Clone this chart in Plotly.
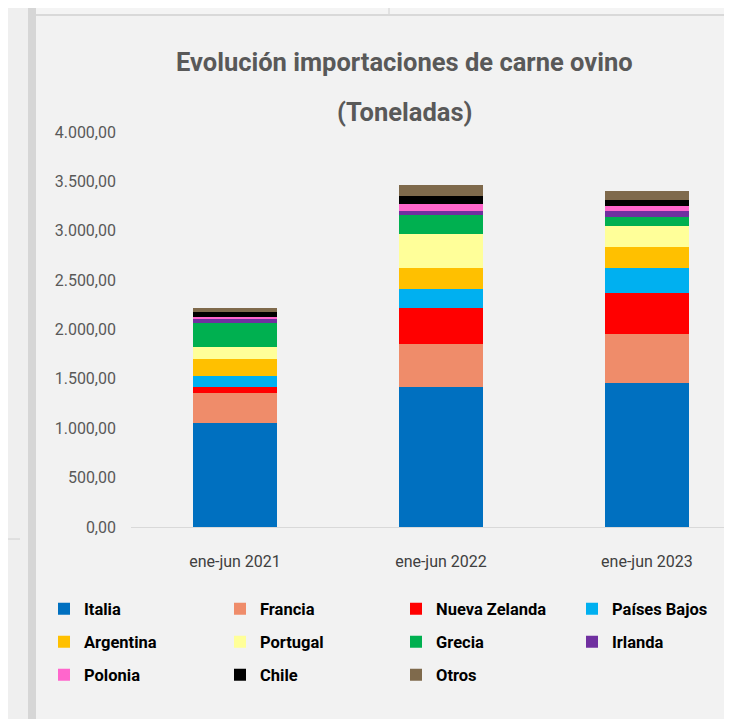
import plotly.graph_objects as go

categories = ["ene-jun 2021", "ene-jun 2022", "ene-jun 2023"]

italia = [1053, 1418, 1461]
francia = [301, 432, 493]
nueva_zelanda = [61, 365, 413]
paises_bajos = [111, 192, 256]
argentina = [172, 216, 215]
portugal = [128, 344, 213]
grecia = [237, 196, 85]
irlanda = [47, 40, 67]
polonia = [20, 65, 44]
chile = [44, 87, 64]
otros = [41, 108, 88]

y_tickvals = [0, 500, 1000, 1500, 2000, 2500, 3000, 3500, 4000]
y_ticktext = ["0,00", "500,00", "1.000,00", "1.500,00", "2.000,00",
              "2.500,00", "3.000,00", "3.500,00", "4.000,00"]

series = [
    ("Italia", italia, "#0070C0", "legend"),
    ("Francia", francia, "#EF8C6A", "legend"),
    ("Nueva Zelanda", nueva_zelanda, "#FF0000", "legend"),
    ("Países Bajos", paises_bajos, "#00B0F0", "legend"),
    ("Argentina", argentina, "#FFC000", "legend2"),
    ("Portugal", portugal, "#FFFF99", "legend2"),
    ("Grecia", grecia, "#00B050", "legend2"),
    ("Irlanda", irlanda, "#7030A0", "legend2"),
    ("Polonia", polonia, "#FF66CC", "legend3"),
    ("Chile", chile, "#000000", "legend3"),
    ("Otros", otros, "#7F6A4C", "legend3"),
]

FONT = "Roboto, Open Sans, sans-serif"

fig = go.Figure()
for name, vals, color, lg in series:
    fig.add_trace(go.Bar(
        x=categories, y=vals, name=name, legend=lg,
        marker=dict(color=color, line=dict(width=0)),
        width=0.41,
    ))

# page has an 8px body margin: figure coords = screen coords - 8
OFF = 8
W, H = 724, 711
L, R_EDGE, TOP, BOT = 131 - OFF, 732 - OFF, 132 - OFF, 527 - OFF
def px(x):  # x given in screen pixels
    return (x - OFF - L) / (R_EDGE - L)
def py(y):  # y given in screen pixels
    return (BOT - (y - OFF)) / (BOT - TOP)

legend_common = dict(
    orientation="h", xref="paper", yref="paper",
    x=px(44), xanchor="left", yanchor="middle",
    entrywidth=131, entrywidthmode="pixels",
    traceorder="normal", bgcolor="rgba(0,0,0,0)",
    font=dict(family=FONT, size=16.5, color="#000000", weight="bold"),
    itemclick=False,
)

shapes = [
    dict(type="rect", xref="paper", yref="paper", x0=px(0), x1=px(28), y0=py(730), y1=py(0),
         fillcolor="#EFEFEF", line=dict(width=0), layer="below"),
    dict(type="rect", xref="paper", yref="paper", x0=px(28), x1=px(36), y0=py(730), y1=py(0),
         fillcolor="#D6D6D6", line=dict(width=0), layer="below"),
    dict(type="line", xref="paper", yref="paper", x0=px(0), x1=px(20), y0=py(539), y1=py(539),
         line=dict(color="#D0D0D0", width=1)),
    dict(type="rect", xref="paper", yref="paper", x0=px(36), x1=px(740), y0=py(14), y1=py(0),
         fillcolor="#F4F4F4", line=dict(width=0), layer="below"),
    dict(type="line", xref="paper", yref="paper", x0=px(36), x1=px(740), y0=py(15), y1=py(15),
         line=dict(color="#D9D9D9", width=2)),
    dict(type="line", xref="paper", yref="paper", x0=px(389), x1=px(389), y0=py(0), y1=py(14),
         line=dict(color="#D0D0D0", width=1)),
]

fig.update_layout(
    width=W, height=H,
    margin=dict(l=L, r=W - R_EDGE, t=TOP, b=H - BOT, autoexpand=False),
    paper_bgcolor="#F2F2F2", plot_bgcolor="#F2F2F2",
    barmode="stack", bargap=0,
    separators=",.",
    font=dict(family=FONT, color="#595959"),
    xaxis=dict(
        type="category", range=[-0.505, 2.413],
        showline=True, linecolor="#D9D9D9", linewidth=1,
        showgrid=False, zeroline=False, ticks="",
        tickfont=dict(family=FONT, size=16, color="#404040"),
        ticklabelstandoff=20,
    ),
    yaxis=dict(
        range=[0, 4000], tickvals=y_tickvals, ticktext=y_ticktext,
        showgrid=False, zeroline=False, showline=False, ticks="",
        tickfont=dict(family=FONT, size=16, color="#595959"),
        ticklabelstandoff=14,
    ),
    legend=dict(legend_common, y=py(609)),
    legend2=dict(legend_common, y=py(642)),
    legend3=dict(legend_common, y=py(675)),
    shapes=shapes,
    annotations=[
        dict(text="<b>Evolución importaciones de carne ovino</b>", xref="paper", yref="paper",
             x=px(404), y=py(62), showarrow=False, xanchor="center", yanchor="middle",
             font=dict(family=FONT, size=25.5, color="#595959")),
        dict(text="<b>(Toneladas)</b>", xref="paper", yref="paper",
             x=px(404), y=py(112), showarrow=False, xanchor="center", yanchor="middle",
             font=dict(family=FONT, size=25.5, color="#595959")),
    ],
)

fig.write_html("out.html")
